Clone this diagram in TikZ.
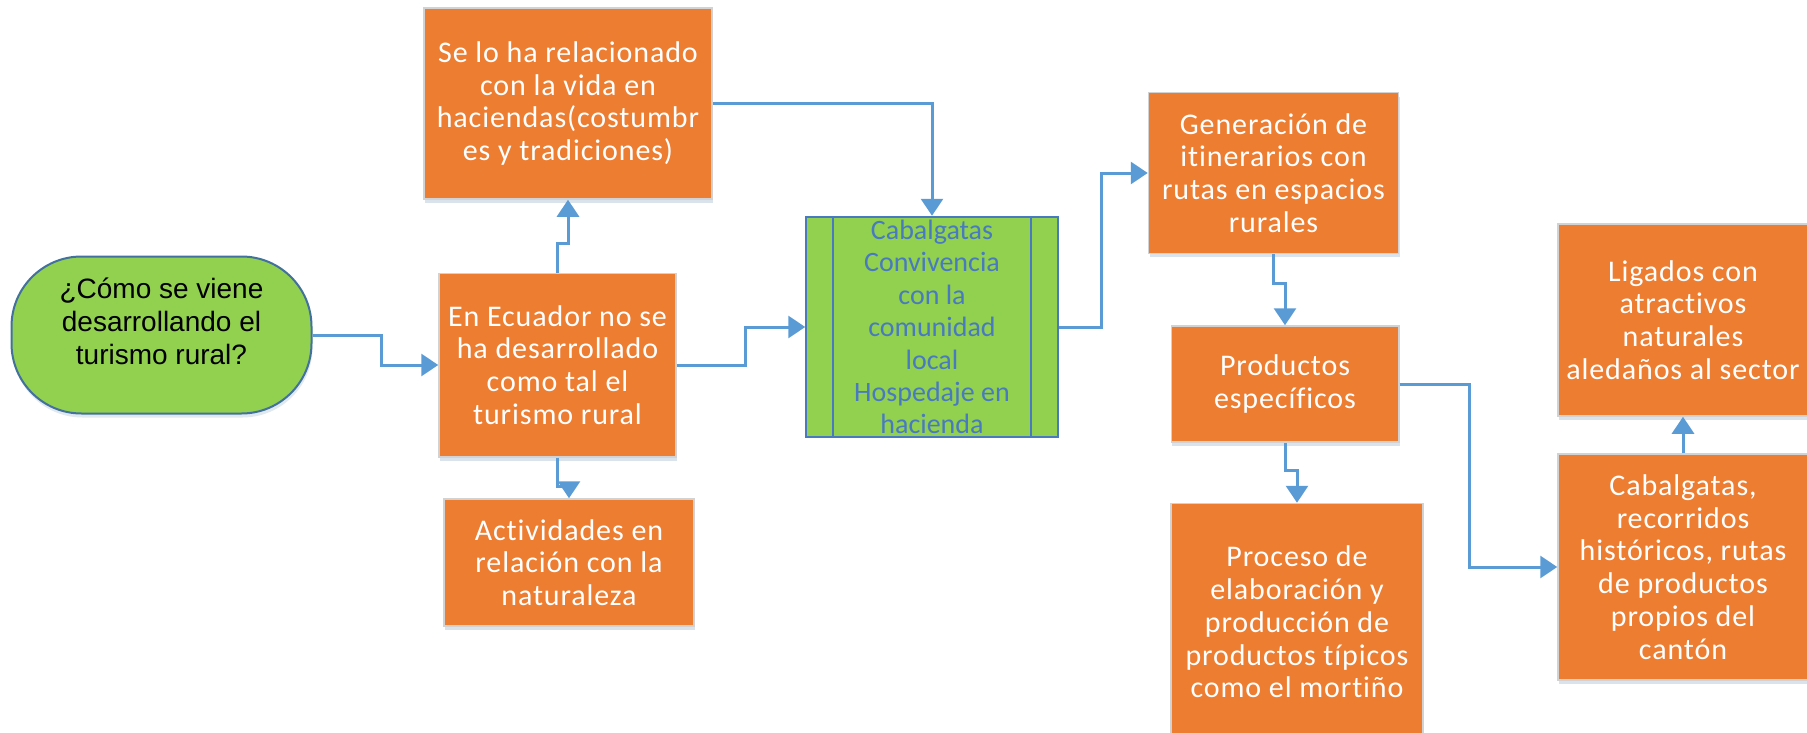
\documentclass[tikz,border=0pt]{standalone}
\usepackage{fontspec}
\setmainfont{Carlito}[Ligatures=NoCommon]
\newfontfamily\arialfont{Liberation Sans}
\newfontfamily\boxfont{Carlito}[Ligatures=NoCommon, LetterSpace=3]
\usetikzlibrary{arrows.meta,shadows}
\definecolor{boxorange}{RGB}{237,125,49}
\definecolor{boxgreen}{RGB}{146,208,80}
\definecolor{linkblue}{RGB}{91,155,213}
\definecolor{edgeblue}{RGB}{65,113,156}
\definecolor{listblue}{RGB}{72,122,192}

\begin{document}
\begin{tikzpicture}[
		x=1pt, y=-1pt,
		every node/.style={font=\boxfont\fontsize{30}{32.7}\selectfont, align=center},
		procbox/.style={
			rectangle,
			draw=gray!35,
			line width=1.5pt,
			fill=boxorange,
			text=white,
			inner sep=0pt,
			drop shadow={shadow xshift=1pt, shadow yshift=-4pt, opacity=0.25, fill=linkblue!60!gray}
			},
		startbox/.style={
			rectangle,
			rounded corners=70pt,
			draw=edgeblue,
			line width=2pt,
			fill=boxgreen,
			minimum width=300pt,
			minimum height=157pt,
			drop shadow={shadow xshift=1pt, shadow yshift=-4pt, opacity=0.2, fill=linkblue!60!gray}
			},
		listbox/.style={
			rectangle,
			draw=listblue,
			line width=2pt,
			fill=boxgreen,
			text=listblue,
			inner sep=0pt,
			font=\rmfamily\fontsize{28}{32.4}\selectfont
			},
		listline/.style={draw=listblue, line width=2pt},
		flow/.style={draw=linkblue, line width=3pt, -{Triangle[length=17pt,width=22pt]}}
		]
		
		\useasboundingbox (0,0) rectangle (1807,733);
		
		% Question
		\node[
		startbox,
		label={[yshift=13.5pt, align=center, font=\arialfont\fontsize{28}{33}\selectfont]center:{¿Cómo se viene\\desarrollando el\\turismo rural?}}
		] (pregunta) at (161.5,335) {};
		
		% Ecuador
		\node[
		procbox,
		minimum width=237pt,
		minimum height=183.5pt
		] (ecuador) at (557.5,365) {En Ecuador no se\\ha desarrollado\\como tal el\\turismo rural};
		
		% Haciendas
		\node[
		procbox,
		minimum width=288pt,
		minimum height=191pt
		] (haciendas) at (568,103.5) {Se lo ha relacionado\\con la vida en\\haciendas(costumbr\\es y tradiciones)};
		
		% Naturaleza
		\node[
		procbox,
		minimum width=250pt,
		minimum height=127pt
		] (naturaleza) at (569,562.5) {Actividades en\\relación con la\\naturaleza};
		
		% Actividades
		\node[
		listbox,
		minimum width=251.5pt,
		minimum height=220.5pt
		] (actividades) at (932,327) {Cabalgatas\\Convivencia\\con la\\comunidad\\local\\Hospedaje en\\hacienda};
		\draw[listline] ([xshift=28pt]actividades.north west) -- ([xshift=28pt]actividades.south west);
		\draw[listline] ([xshift=-28pt]actividades.north east) -- ([xshift=-28pt]actividades.south east);
		
		% Itinerarios
		\node[
		procbox,
		minimum width=250pt,
		minimum height=160.5pt
		] (itinerarios) at (1273.5,173) {Generación de\\itinerarios con\\rutas en espacios\\rurales};
		
		% Productos
		\node[
		procbox,
		minimum width=227.5pt,
		minimum height=116pt
		] (productos) at (1285,384) {Productos\\específicos};
		
		% Proceso
		\node[
		procbox,
		minimum width=252pt,
		minimum height=237pt
		] (proceso) at (1297,622) {Proceso de\\elaboración y\\producción de\\productos típicos\\como el mortiño};
		
		% Atractivos
		\node[
		procbox,
		minimum width=250pt,
		minimum height=192pt
		] (atractivos) at (1683,320) {Ligados con\\atractivos\\naturales\\aledaños al sector};
		
		% Recorridos
		\node[
		procbox,
		minimum width=250pt,
		minimum height=226pt
		] (recorridos) at (1683,567) {Cabalgatas,\\recorridos\\históricos, rutas\\de productos\\propios del\\cantón};
		
		% Arrows
		\draw[flow] (pregunta.east) -- ++(68.5,0) |- (ecuador.west);
		
		\draw[flow] (ecuador.north) -- ++(0,-29.5) -| (haciendas.south);
		
		\draw[flow] (ecuador.south) -- ++(0,29) -| (naturaleza.north);
		
		\draw[flow] (ecuador.east) -- ++(69,0) |- (actividades.west);
		
		\draw[flow] (haciendas.east) -| (actividades.north);
		
		\draw[flow] (actividades.east) -- ++(42.5,0) |- (itinerarios.west);
		
		\draw[flow] (itinerarios.south) -- ++(0,29) -| (productos.north);
		
		\draw[flow] (productos.south) -- ++(0,28) -| (proceso.north);
		
		\draw[flow] (productos.east) -- ++(69.5,0) |- (recorridos.west);
		
		\draw[flow] (recorridos.north) -- (atractivos.south);
		
	\end{tikzpicture}
\end{document}
